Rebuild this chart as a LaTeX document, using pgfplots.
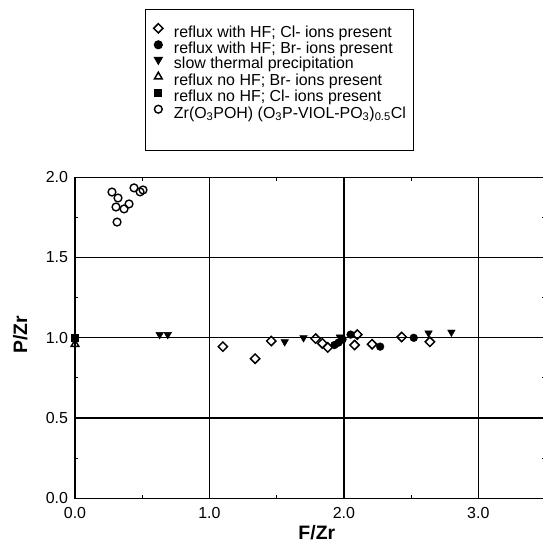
\documentclass[border=0pt]{standalone}
\usepackage{fontspec}
\setmainfont{Liberation Sans}
\usepackage{pgfplots}
\pgfplotsset{compat=1.18}
\pgfplotsset{mylegimg/.style={legend image code/.code={\draw[##1] plot coordinates {(0bp,5.2bp)};}}}
\begin{document}
\begin{tikzpicture}
\useasboundingbox (-75bp,-45.7bp) rectangle (468bp,498.3bp);
\begin{axis}[
  scale only axis, width=470.5bp, height=321bp,
  at={(0,0)}, anchor=south west,
  xmin=0, xmax=3.5, ymin=0, ymax=2,
  xtick={0,1,2,3}, xticklabels={0.0,1.0,2.0,3.0},
  ytick={0,0.5,1,1.5,2}, yticklabels={0.0,0.5,1.0,1.5,2.0},
  minor xtick={0.5,1.5,2.5}, minor ytick={0.25,0.75,1.25,1.75},
  tick align=inside, major tick length=0pt, minor tick length=3.5bp,
  tick style={black, line width=1bp},
  xmajorgrids, ymajorgrids,
  major grid style={black, line width=1.3bp},
  axis line style={black, line width=1.5bp},
  ticklabel style={font=\fontsize{16}{16}\selectfont},
  xticklabel style={yshift=-6bp},
  yticklabel style={xshift=-3.5bp},
  /pgf/number format/assume math mode=true,
  xlabel={\bfseries F/Zr},
  ylabel={\bfseries P/Zr},
  xlabel style={at={(axis description cs:0.514,-0.127)}, anchor=base, font=\fontsize{19.5}{19.5}\selectfont},
  ylabel style={at={(axis description cs:-0.102,0.51)}, anchor=base, rotate=0, font=\fontsize{19.5}{19.5}\selectfont},
  clip=false,
  legend cell align=left,
  legend style={at={(axis description cs:0.1488,1.5243)}, anchor=north west,
    draw=black, line width=1.3bp, fill=white,
    font=\fontsize{16}{16}\selectfont,
    inner xsep=8bp, inner ysep=14bp, row sep=0pt, column sep=11bp,
    nodes={inner sep=0pt, text height=11bp, text depth=3.8bp}},
]
\addplot[black, only marks, mark=square, mark size=3.3bp, mark options={rotate=45, line width=1.5bp}, mylegimg] coordinates {
(1.10,0.945) (1.34,0.87) (1.46,0.98) (1.79,0.995) (1.84,0.965) (1.88,0.94)
(2.08,0.955) (2.10,1.02) (2.21,0.96) (2.43,1.005) (2.64,0.975)
};
\addlegendentry{reflux with HF; Cl- ions present}
\addplot[black, only marks, mark=*, mark size=3.9bp, mark options={fill=black}, mylegimg] coordinates {
(1.93,0.955) (1.96,0.97) (1.99,0.99) (2.05,1.02) (2.27,0.945) (2.52,1.00)
};
\addlegendentry{reflux with HF; Br- ions present}
\addplot[black, only marks, mark=triangle*, mark size=4.4bp, mark options={rotate=180, fill=black}, mylegimg] coordinates {
(0.63,1.02) (0.69,1.02) (1.56,0.975) (1.70,1.00) (1.97,1.005) (2.63,1.03) (2.80,1.035)
};
\addlegendentry{slow thermal precipitation}
\addplot[black, only marks, mark=triangle, mark size=4.4bp, mark options={line width=1.5bp}, mylegimg] coordinates {
(0,0.96)
};
\addlegendentry{reflux no HF; Br- ions present}
\addplot[black, only marks, mark=square*, mark size=3.5bp, mark options={fill=black}, mylegimg] coordinates {
(0,1.0)
};
\addlegendentry{reflux no HF; Cl- ions present}
\addplot[black, only marks, mark=o, mark size=3.9bp, mark options={line width=1.4bp}, mylegimg] coordinates {
(0.275,1.908) (0.320,1.871) (0.305,1.815) (0.365,1.803) (0.402,1.834)
(0.439,1.934) (0.484,1.909) (0.506,1.921) (0.313,1.721)
};
\addlegendentry{Zr(O\textsubscript{3}POH) (O\textsubscript{3}P-VIOL-PO\textsubscript{3})\textsubscript{0.5}Cl}
\addlegendimage{empty legend}\addlegendentry{}
\end{axis}
\end{tikzpicture}
\end{document}
